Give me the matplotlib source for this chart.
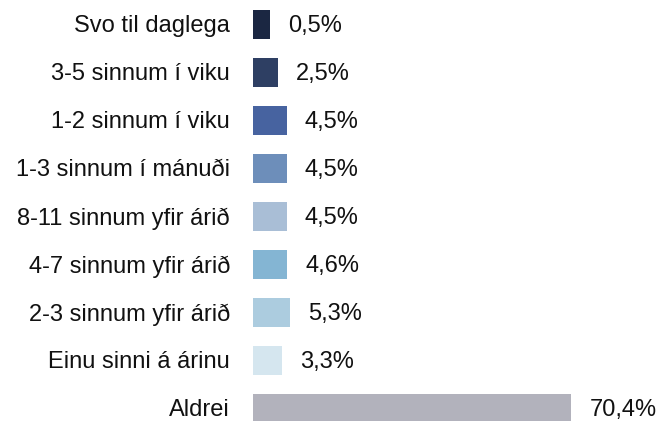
import matplotlib
matplotlib.use('Agg')
import matplotlib.pyplot as plt

# ── data ──────────────────────────────────────────────────
categories = [
    "Svo til daglega",
    "3-5 sinnum í viku",
    "1-2 sinnum í viku",
    "1-3 sinnum í mánuði",
    "8-11 sinnum yfir árið",
    "4-7 sinnum yfir árið",
    "2-3 sinnum yfir árið",
    "Einu sinni á árinu",
    "Aldrei",
]
values = [0.5, 2.5, 4.5, 4.5, 4.5, 4.6, 5.3, 3.3, 70.4]
value_labels = ["0,5%", "2,5%", "4,5%", "4,5%", "4,5%", "4,6%", "5,3%", "3,3%", "70,4%"]
colors = ['#1b2742', '#2e3f63', '#4763a0', '#6d8eba', '#a9bed6',
          '#84b5d3', '#acccdf', '#d5e6ef', '#b2b2bc']

plt.rcParams['font.family'] = ['Liberation Sans', 'DejaVu Sans']

W, H = 662, 421
fig = plt.figure(figsize=(W / 100, H / 100), dpi=100)

# axes begin where the bars begin (px), bars start a bit left of zero
ax_left_px = 253
px_per_unit = 4.316
base = -3.36
ax = fig.add_axes([ax_left_px / W, 0, (W - ax_left_px) / W, 1])

pos = list(range(len(categories)))
ax.barh(pos, [v - base for v in values], left=base, height=0.6, color=colors)

ax.set_xlim(base, base + (W - ax_left_px) / px_per_unit)
ax.set_ylim((H - 24.5) / 48, -24.5 / 48)

for p, v, lab in zip(pos, values, value_labels):
    ax.text(v + 18 / px_per_unit, p + 0.04, lab, va='center', ha='left',
            fontsize=17, color='#111111')

for p, cat in zip(pos, categories):
    ax.text(base - 23 / px_per_unit, p + 0.04, cat, va='center', ha='right',
            fontsize=17, color='#111111', clip_on=False)

ax.axis('off')

fig.savefig('out.png', dpi=100)
plt.close(fig)
